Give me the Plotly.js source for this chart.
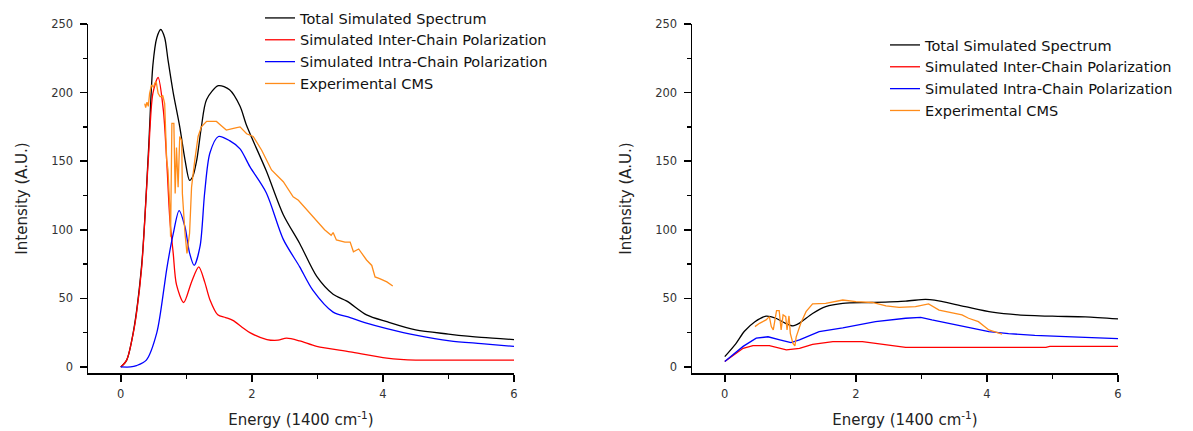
<!DOCTYPE html>
<html>
<head>
<meta charset="utf-8">
<script src="https://cdn.plot.ly/plotly-3.0.1.min.js"></script>
<style>html,body{margin:0;padding:0;background:#fff;}#chart{width:1193px;height:431px;}</style>
</head>
<body>
<div id="chart"></div>
<script>
// ---------- Data ----------
var seriesNames = ["Total Simulated Spectrum", "Simulated Inter-Chain Polarization", "Simulated Intra-Chain Polarization", "Experimental CMS"];

// Left panel
var leftTotalX = [0,0.09,0.19,0.32,0.42,0.49,0.55,0.61,0.67,0.72,0.8,0.9,0.98,1.05,1.1,1.16,1.23,1.31,1.49,1.66,1.82,1.92,2.22,2.48,2.73,2.99,3.24,3.45,3.75,4.06,4.5,5.0,5.5,6.0];
var leftTotalY = [0,5,25,75,155,220,240,246,240,224,200,175,151,136,139,151,175,195,205,202,190,176,143,111,90,66,53,48,38,33,27,24,21.5,20];

var leftInterX = [0,0.09,0.19,0.24,0.32,0.42,0.49,0.57,0.65,0.70,0.75,0.8,0.85,0.96,1.08,1.19,1.28,1.36,1.48,1.6,1.71,1.85,1.97,2.23,2.4,2.53,2.73,2.99,3.5,4.06,4.5,5.0,6.0];
var leftInterY = [0,5,24.5,39,73,151,199.5,211,187,151,107,83,60,47,62,73,62,49,38,36,34,29,25,20,19.5,21,19,15,11,6.5,5,5,5];

var leftIntraX = [0,0.15,0.24,0.39,0.55,0.67,0.70,0.8,0.89,0.98,1.05,1.12,1.21,1.28,1.36,1.49,1.66,1.82,1.97,2.22,2.48,2.73,2.93,3.24,3.5,3.75,4.06,4.52,5.02,5.5,6.0];
var leftIntraY = [0,0,1,5,25,61,71,97,114,102,83,74,88,127,156,168,165,159,146,127,93,73,56,40,36,32,28,23,19,17,15];

var leftExpX = [0.366,0.38,0.40,0.42,0.44,0.47,0.50,0.52,0.54,0.57,0.60,0.62,0.64,0.67,0.70,0.72,0.75,0.76,0.78,0.81,0.83,0.85,0.875,0.9,0.93,0.94,0.98,1.01,1.05,1.08,1.13,1.18,1.23,1.31,1.38,1.46,1.53,1.61,1.72,1.82,1.92,2.02,2.15,2.3,2.48,2.63,2.71,2.89,2.99,3.11,3.21,3.24,3.29,3.42,3.5,3.55,3.63,3.75,3.83,3.88,3.95,4.06,4.15];
var leftExpY = [192,189,193,190,199.5,205.5,204,207,208,199.5,197,197,198,192,151,143.6,114,95,177.6,177.6,126.5,160,131,168,165,126.5,97.5,82.8,97.5,131,151,168,175,179,179,179,176,172.7,174,175,170,168,158,143.6,135,124,121.5,112,107,100,96,98,92.6,91,91,84,86,78,74,65.6,64.4,62,59];

// Right panel
var rightTotalX = [0,0.17,0.3,0.46,0.63,0.78,0.92,1.04,1.14,1.34,1.54,1.8,2.25,2.76,3.06,3.2,3.67,4.08,4.48,5.0,5.5,6.0];
var rightTotalY = [7.5,17,26,33,37,35.5,32,30,32,39,44,46.4,47,48,49.3,48.8,44,40,38,37,36.5,35];

var rightInterX = [0,0.28,0.43,0.68,0.94,1.14,1.34,1.65,2.1,2.5,2.76,4.9,4.96,6.0];
var rightInterY = [4,13.6,15.5,15.5,12.4,13.6,16.5,18.5,18.5,16,14.3,14.3,15,15];

var rightIntraX = [0,0.28,0.48,0.66,0.84,1.01,1.14,1.44,1.8,2.3,2.76,2.99,3.16,3.67,4.03,4.33,4.73,5.3,6.0];
var rightIntraY = [4,15,21,22,19.7,17.7,19.7,25.8,28.5,33,35.5,36.2,34.3,29.4,25.8,24.3,23,22,20.6];

var rightExpX = [0.46,0.53,0.63,0.68,0.71,0.74,0.79,0.83,0.86,0.89,0.93,0.95,0.98,1.0,1.04,1.07,1.09,1.16,1.24,1.34,1.54,1.8,2.0,2.25,2.46,2.66,2.91,3.11,3.27,3.47,3.62,3.72,3.87,4.03,4.18,4.23];
var rightExpY = [29.4,31.8,34.3,36.7,29.4,27,41,41,27,38,36.7,27,37.2,24.5,17.2,15.3,22,31.8,40.3,46,46.4,48.8,47.6,47,44.5,43.5,44,46,41.5,39.6,38,35.5,33,27,24.5,24];

var xTickVals = [0,2,4,6];
var yTickVals = [0,50,100,150,200,250];

// ---------- Styles ----------
var colors = ["#000000", "#ff0000", "#0000ff", "#ff8c1a"];
var FONT = "DejaVu Sans, Arial, sans-serif";

function tr(x, y, i, ax, leg, smooth) {
  return {
    x: x, y: y, type: "scatter", mode: "lines", name: seriesNames[i],
    xaxis: ax[0], yaxis: ax[1], legend: leg,
    line: {color: colors[i], width: 1.3, shape: smooth ? "spline" : "linear", smoothing: 0.8},
    hoverinfo: "skip"
  };
}

var data = [
  tr(leftTotalX, leftTotalY, 0, ["x","y"], "legend", true),
  tr(leftInterX, leftInterY, 1, ["x","y"], "legend", true),
  tr(leftIntraX, leftIntraY, 2, ["x","y"], "legend", true),
  tr(leftExpX, leftExpY, 3, ["x","y"], "legend", false),
  tr(rightTotalX, rightTotalY, 0, ["x2","y2"], "legend2", true),
  tr(rightInterX, rightInterY, 1, ["x2","y2"], "legend2", false),
  tr(rightIntraX, rightIntraY, 2, ["x2","y2"], "legend2", false),
  tr(rightExpX, rightExpY, 3, ["x2","y2"], "legend2", false)
];

var W = 1193, H = 431;
function xAxis(dom, anchor) {
  return {
    domain: dom, anchor: anchor, range: [-0.5, 6], tickvals: xTickVals,
    showline: true, linecolor: "#000", linewidth: 1.5, mirror: false,
    ticks: "outside", ticklen: 7, tickwidth: 1.5, tickcolor: "#000",
    minor: {ticks: "outside", ticklen: 4, tickwidth: 1.5, tickcolor: "#000", dtick: 1, tick0: 0, showgrid: false},
    showgrid: false, zeroline: false, ticklabelstandoff: 3,
    tickfont: {family: FONT, size: 11.5, color: "#333"},
    title: {text: "Energy (1400 cm<sup>-1</sup>)", font: {family: FONT, size: 15, color: "#222"}, standoff: 14}
  };
}
function yAxis(dom, anchor) {
  return {
    domain: dom, anchor: anchor, range: [-4.4, 250], tickvals: yTickVals,
    showline: true, linecolor: "#000", linewidth: 1.5, mirror: false,
    ticks: "outside", ticklen: 7, tickwidth: 1.5, tickcolor: "#000",
    minor: {ticks: "outside", ticklen: 4, tickwidth: 1.5, tickcolor: "#000", dtick: 25, tick0: 0, showgrid: false},
    showgrid: false, zeroline: false, ticklabelstandoff: 4,
    tickfont: {family: FONT, size: 11.5, color: "#333"},
    title: {text: "Intensity (A.U.)", font: {family: FONT, size: 15, color: "#222"}, standoff: 20}
  };
}
var yDom = [1 - 373 / H, 1 - 24 / H];

var layout = {
  width: W, height: H,
  margin: {l: 0, r: 0, t: 0, b: 0},
  paper_bgcolor: "#fff", plot_bgcolor: "rgba(0,0,0,0)",
  font: {family: FONT, color: "#222"},
  xaxis: xAxis([88 / W, 514 / W], "y"),
  yaxis: yAxis(yDom, "x"),
  xaxis2: xAxis([692 / W, 1118 / W], "y2"),
  yaxis2: yAxis(yDom, "x2"),
  legend: {x: 260 / W, y: 1 - 2 / H, xanchor: "left", yanchor: "top", bgcolor: "rgba(0,0,0,0)", borderwidth: 0,
           font: {family: FONT, size: 14.5, color: "#111"}, tracegroupgap: 0},
  legend2: {x: 885 / W, y: 1 - 29 / H, xanchor: "left", yanchor: "top", bgcolor: "rgba(0,0,0,0)", borderwidth: 0,
           font: {family: FONT, size: 14.5, color: "#111"}, tracegroupgap: 0},
  showlegend: true
};

Plotly.newPlot("chart", data, layout, {staticPlot: true, displayModeBar: false});
</script>
</body>
</html>
